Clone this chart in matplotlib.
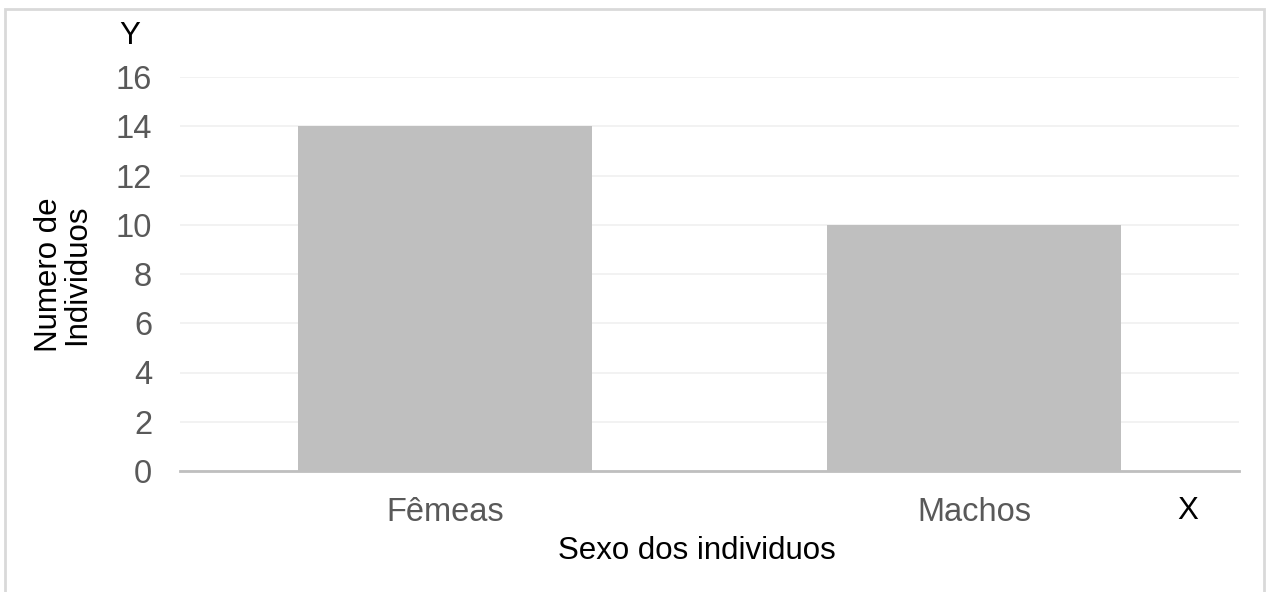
import matplotlib.pyplot as plt
from matplotlib.patches import Rectangle

categories = ['Fêmeas', 'Machos']
counts = [14, 10]
yticks = [0, 2, 4, 6, 8, 10, 12, 14, 16]

plt.rcParams['font.family'] = ['Liberation Sans', 'DejaVu Sans']

W, H = 1270, 592
fig = plt.figure(figsize=(W / 100, H / 100), dpi=100)

# outer frame of the chart (bottom edge is cut off in the original)
fig.patches.append(Rectangle((5 / W, -0.05), 1259 / W, 1.05 - 9 / H,
                             transform=fig.transFigure, fill=False,
                             edgecolor='#d9d9d9', linewidth=2))

ax = fig.add_axes([180 / W, 1 - 471 / H, (1239 - 180) / W, (471 - 77) / H])
x = range(len(categories))
ax.bar(x, counts, width=0.555, color='#bfbfbf', zorder=2)
ax.set_xlim(-0.5, 1.5)
ax.set_ylim(0, 16)
ax.set_yticks(yticks)
ax.set_xticks(list(x))
ax.set_xticklabels(categories)
ax.grid(axis='y', color='#f0f0f0', linewidth=1.2, zorder=0)
for s in ['top', 'right', 'left']:
    ax.spines[s].set_visible(False)
ax.spines['bottom'].set_color('#bfbfbf')
ax.spines['bottom'].set_linewidth(2)
ax.spines['bottom'].set_zorder(3)
ax.tick_params(length=0, labelsize=23.5, labelcolor='#595959')
ax.tick_params(axis='y', pad=20)
ax.tick_params(axis='x', pad=19)

fig.text(697 / W, 1 - 551 / H, 'Sexo dos individuos', ha='center', va='center',
         fontsize=22.5, color='black')
fig.text(63 / W, 1 - 275 / H, 'Numero de\nIndividuos', ha='center', va='center',
         rotation=90, fontsize=22.5, color='black', linespacing=0.95)
fig.text(130 / W, 1 - 36 / H, 'Y', ha='center', va='center', fontsize=22.5)
fig.text(1188 / W, 1 - 511 / H, 'X', ha='center', va='center', fontsize=22.5)

fig.savefig('out.png', dpi=100, facecolor='white')
